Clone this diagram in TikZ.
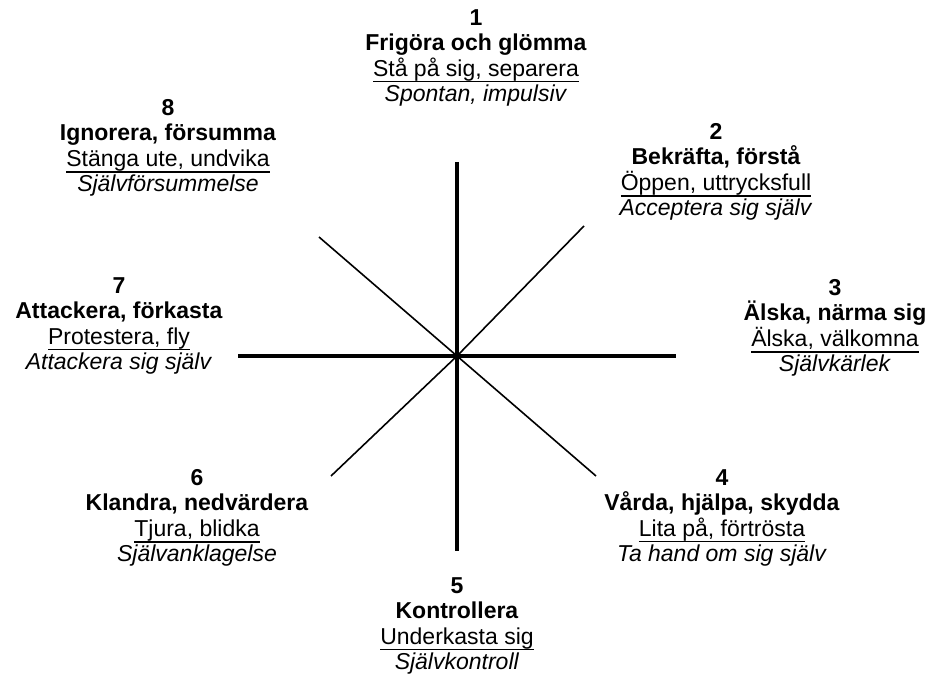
\documentclass[tikz,border=0pt]{standalone}
\usepackage{fontspec}
\setmainfont{Liberation Sans}
\usepackage{tikz}
\newcommand{\ulin}[1]{\setbox0\hbox{#1}\rlap{\rule[-6.2pt]{\wd0}{1.3pt}}\box0}

\begin{document}
\begin{tikzpicture}[
  x=1pt, y=-1pt,
  font=\fontsize{23}{25.5}\selectfont,
  lbl/.style={align=center, inner sep=0pt},
  axisline/.style={line width=3.2pt},
  diagline/.style={line width=1.6pt}
]
  \useasboundingbox (0,0) rectangle (933,679);

  % centre and spoke ends
  \coordinate (c) at (457,356);
  \coordinate (n) at (457,162);
  \coordinate (s) at (457,551);
  \coordinate (w) at (238,356);
  \coordinate (e) at (676,356);
  \coordinate (nw) at (319,237);
  \coordinate (ne) at (584,226);
  \coordinate (sw) at (331,476);
  \coordinate (se) at (596,476);

  \draw[axisline] (n) -- (s);
  \draw[axisline] (w) -- (e);
  \draw[diagline] (nw) -- (c) -- (se);
  \draw[diagline] (ne) -- (c) -- (sw);

  % the eight positions
  \node[lbl] (p1) at (476,58) {\textbf{1}\\\textbf{Frigöra och glömma}\\\ulin{Stå på sig, separera}\\\textit{Spontan, impulsiv}};
  \node[lbl] (p2) at (716,172) {\textbf{2}\\\textbf{Bekräfta, förstå}\\\ulin{Öppen, uttrycksfull}\\\textit{Acceptera sig själv}};
  \node[lbl] (p3) at (835,328) {\textbf{3}\\\textbf{Älska, närma sig}\\\ulin{Älska, välkomna}\\\textit{Självkärlek}};
  \node[lbl] (p4) at (722,518) {\textbf{4}\\\textbf{Vårda, hjälpa, skydda}\\\ulin{Lita på, förtrösta}\\\textit{Ta hand om sig själv}};
  \node[lbl] (p5) at (457,626) {\textbf{5}\\\textbf{Kontrollera}\\\ulin{Underkasta sig}\\\textit{Självkontroll}};
  \node[lbl] (p6) at (197,518) {\textbf{6}\\\textbf{Klandra, nedvärdera}\\\ulin{Tjura, blidka}\\\textit{Självanklagelse}};
  \node[lbl] (p7) at (119,326) {\textbf{7}\\\textbf{Attackera, förkasta}\\\ulin{Protestera, fly}\\\textit{Attackera sig själv}};
  \node[lbl] (p8) at (168,148) {\textbf{8}\\\textbf{Ignorera, försumma}\\\ulin{Stänga ute, undvika}\\\textit{Självförsummelse}};
\end{tikzpicture}
\end{document}
